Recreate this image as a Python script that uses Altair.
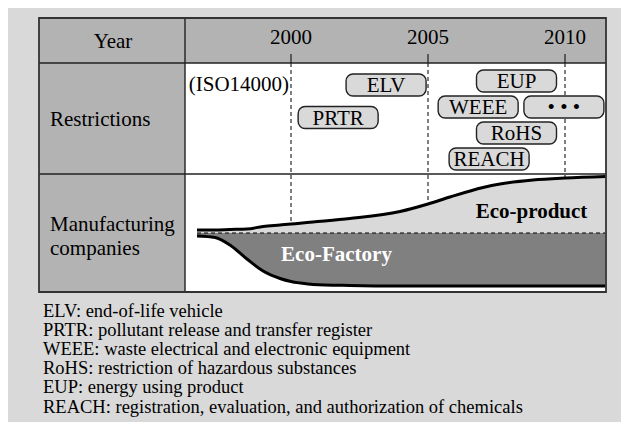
import altair as alt
import pandas as pd

# ---------------- data ----------------
year_ticks = [2000, 2005, 2010]

reg_names = ["ELV", "PRTR", "EUP", "WEEE", "• • •", "RoHS", "REACH"]
reg_year = [2003.47, 2001.72, 2008.23, 2006.83, 2009.96, 2008.23, 2007.23]   # centre year of each box
reg_level = [77, 109.5, 73, 99, 99, 125, 151]                                 # vertical level in row

iso_label = "(ISO14000)"
iso_year = 1998.1

curve_year = [1996.57, 1997.23, 1997.77, 1998.39, 1998.98, 1999.60, 2000.0, 2000.33, 2000.80,
              2002.15, 2003.98, 2005.0, 2005.80, 2007.01, 2007.63, 2008.83, 2010.0, 2011.48]
eco_product_top = [222, 222, 221.5, 221, 218.5, 217, 216, 215.2, 214,
                   210.5, 203.5, 196, 189, 179.5, 176, 172, 170, 168.5]
eco_factory_bottom = [228, 229.5, 237, 251, 263, 270.5, 273.5, 275, 276.5,
                      277.5, 278, 278, 278, 278, 278, 278, 278, 278]
split_level = 225

legend_lines = [
    "ELV: end-of-life vehicle",
    "PRTR: pollutant release and transfer register",
    "WEEE: waste electrical and electronic equipment",
    "RoHS: restriction of hazardous substances",
    "EUP: energy using product",
    "REACH: registration, evaluation, and authorization of chemicals",
]

# ---------------- layout ----------------
W, H = 613, 414
X0, X1 = 1989.6715, 2012.0438
PX_PER_YEAR = W / (X1 - X0)
FONT = "Liberation Serif"
BG = "#d9d9d9"
HEAD = "#b3b3b3"
LINE = "#222222"

TL, TR, TT, TB = 31, 598, 10, 284     # table box (pixels)
COL = 177                              # left column divider
HB, RB = 55, 166                       # header bottom, row divider

xs = alt.Scale(domain=[X0, X1], range=[0, W], nice=False, zero=False)
ys = alt.Scale(domain=[0, H], range=[0, H], nice=False, zero=False)

one = pd.DataFrame({"k": [0]})

half_w = 40 / PX_PER_YEAR
half_h = 11
regs = pd.DataFrame({"name": reg_names, "year": reg_year, "level": reg_level})
regs["x1"] = regs["year"] - half_w
regs["x2"] = regs["year"] + half_w
regs["y1"] = regs["level"] - half_h
regs["y2"] = regs["level"] + half_h

curves = pd.DataFrame({"year": curve_year, "top": eco_product_top, "bottom": eco_factory_bottom})
curves["split"] = split_level

ticks = pd.DataFrame({"year": year_ticks})
ticks["g1"] = HB
ticks["g0"] = HB - 9
ticks["g2"] = split_level
ticks["ly"] = 36.3

split_df = pd.DataFrame({"x1": [curve_year[0]], "x2": [curve_year[-1]], "y": [split_level]})
iso_df = pd.DataFrame({"year": [iso_year], "t": [iso_label], "y": [82.5]})


def X(f):
    return alt.X(f, type="quantitative", scale=xs, axis=None)


def Y(f):
    return alt.Y(f, type="quantitative", scale=ys, axis=None)


def rect(x1, x2, y1, y2, **kw):
    return alt.Chart(one).mark_rect(**kw).encode(
        x=alt.value(x1), x2=alt.value(x2), y=alt.value(y1), y2=alt.value(y2))


def rule(x1, x2, y1, y2, **kw):
    return alt.Chart(one).mark_rule(**kw).encode(
        x=alt.value(x1), x2=alt.value(x2), y=alt.value(y1), y2=alt.value(y2))


def text(t, x, y, **kw):
    return alt.Chart(one).mark_text(text=t, font=FONT, baseline="alphabetic", **kw).encode(
        x=alt.value(x), y=alt.value(y))


layers = []
layers.append(rect(TL, TR, TT, HB, fill=HEAD))
layers.append(rect(TL, COL, TT, TB, fill=HEAD))
layers.append(rect(COL, TR, HB, TB, fill="white"))

# year guide lines
layers.append(alt.Chart(ticks).mark_rule(color="black", strokeWidth=1, strokeDash=[4, 3]).encode(
    x=X("year"), y=Y("g1"), y2="g2"))
layers.append(alt.Chart(ticks).mark_rule(color="black", strokeWidth=1).encode(
    x=X("year"), y=Y("g0"), y2="g1"))

# areas
layers.append(alt.Chart(curves).mark_area(interpolate="monotone", color=BG, opacity=1).encode(
    x=X("year"), y=Y("top"), y2="split"))
layers.append(alt.Chart(curves).mark_area(interpolate="monotone", color="#808080", opacity=1).encode(
    x=X("year"), y=Y("split"), y2="bottom"))
# dashed split line
layers.append(alt.Chart(split_df).mark_rule(color="black", strokeWidth=1, strokeDash=[4, 3]).encode(
    x=X("x1"), x2="x2", y=Y("y")))
# boundary lines
for col in ["top", "bottom"]:
    layers.append(alt.Chart(curves).mark_line(interpolate="monotone", color="black",
                                              strokeWidth=3, strokeCap="butt").encode(
        x=X("year"), y=Y(col)))

# frame lines
layers.append(rule(TL, TR, HB, HB, color=LINE, strokeWidth=1.4))
layers.append(rule(TL, TR, RB, RB, color=LINE, strokeWidth=1.4))
layers.append(rule(COL, COL, TT, TB, color=LINE, strokeWidth=1.4))
layers.append(rect(TL, TR, TT, TB, fillOpacity=0, stroke="#333333", strokeWidth=1.8))

# restriction boxes
layers.append(alt.Chart(regs).mark_rect(cornerRadius=7, fill=BG, stroke=LINE, strokeWidth=1.4).encode(
    x=X("x1"), x2="x2", y=Y("y1"), y2="y2"))
layers.append(alt.Chart(regs).mark_text(font=FONT, fontSize=21, baseline="alphabetic", dy=7.3,
                                        color="black").encode(
    x=X("year"), y=Y("level"), text="name:N"))

# year labels
layers.append(alt.Chart(ticks).mark_text(font=FONT, fontSize=21, baseline="alphabetic").encode(
    x=X("year"), y=Y("ly"), text=alt.Text("year:Q", format="d")))

# ISO label
layers.append(alt.Chart(iso_df).mark_text(font=FONT, fontSize=21, baseline="alphabetic").encode(
    x=X("year"), y=Y("y"), text="t:N"))

# row headers and labels
layers.append(text("Year", 105, 40.3, fontSize=21, align="center"))
layers.append(text("Restrictions", 42, 117.7, fontSize=21, align="left"))
layers.append(text("Manufacturing\ncompanies", 42, 223, fontSize=21, align="left",
                   lineBreak="\n", lineHeight=24))
layers.append(text("Eco-product", 523.5, 209.7, fontSize=21, fontWeight="bold", align="center"))
layers.append(text("Eco-Factory", 328.5, 253, fontSize=21, fontWeight="bold", align="center",
                   color="white"))
layers.append(text("\n".join(legend_lines), 35, 308.7, fontSize=18.5, align="left",
                   lineBreak="\n", lineHeight=19.2))

chart = alt.layer(*layers).properties(
    width=W, height=H, padding=0,
    autosize=alt.AutoSizeParams(type="none"),
    background=BG,
).configure_view(strokeWidth=0)

chart.save("out.html", embed_options={"renderer": "svg", "actions": False})
